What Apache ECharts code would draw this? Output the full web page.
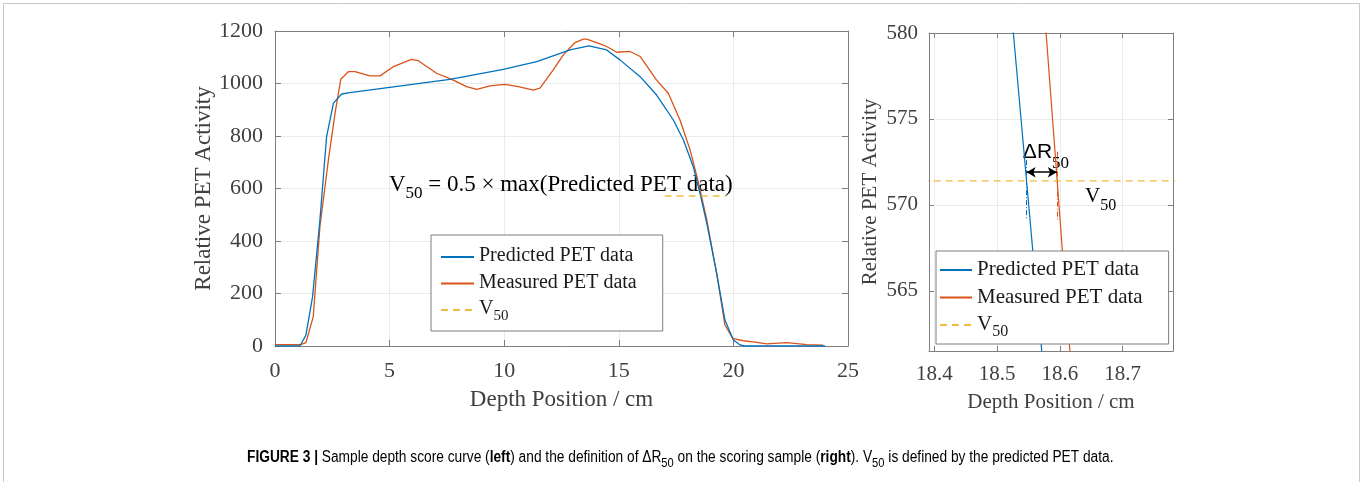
<!DOCTYPE html>
<html>
<head>
<meta charset="utf-8">
<script src="https://cdn.jsdelivr.net/npm/echarts@6/dist/echarts.min.js"></script>
<style>
html,body{margin:0;padding:0;background:#fff;}
#chart{width:1360px;height:482px;}
</style>
</head>
<body>
<div id="chart"></div>
<script>
// ---- data ----
const predX = [0, 1.09, 1.35, 1.64, 1.96, 2.25, 2.55, 2.91, 3.27, 5.0, 7.63, 9.96, 11.42, 12.87, 13.7, 14.47, 15.05, 15.93, 16.65, 17.38, 17.82, 18.25, 18.54, 18.84, 19.27, 19.63, 20.0, 20.29, 20.5, 24.0];
const predY = [0, 0, 42, 188, 480, 797, 925, 960, 965, 985, 1016, 1054, 1083, 1128, 1143, 1128, 1090, 1026, 956, 861, 785, 683, 582, 467, 277, 99, 23, 4, 0, 0];

const measX = [0, 1.12, 1.35, 1.67, 1.96, 2.33, 2.62, 2.87, 3.2, 3.49, 4.14, 4.58, 5.16, 5.96, 6.25, 7.05, 7.71, 8.36, 8.8, 9.38, 10.03, 10.62, 11.27, 11.56, 12.14, 12.58, 13.09, 13.45, 13.6, 14.18, 14.47, 14.91, 15.49, 15.93, 16.65, 17.16, 17.67, 18.11, 18.45, 18.84, 19.27, 19.63, 19.97, 20.43, 20.87, 21.45, 22.33, 23.2, 23.92];
const measY = [5, 5, 13, 112, 455, 709, 887, 1016, 1045, 1045, 1029, 1029, 1064, 1092, 1087, 1039, 1016, 988, 978, 991, 997, 988, 975, 982, 1052, 1109, 1156, 1169, 1169, 1151, 1141, 1119, 1122, 1103, 1013, 963, 861, 747, 632, 480, 277, 80, 29, 20, 16, 8, 13, 5, 3];

const v50Value = 571.4;
const v50LeftX = [17.0, 19.7];

// zoomed panel (right)
const zoomPredX = [18.521, 18.5747];
const zoomPredY = [582, 560];
const zoomMeasX = [18.5739, 18.619];
const zoomMeasY = [582, 560];
const zoomV50X = [18.38, 18.79];
const crossPredX = 18.547;
const crossMeasX = 18.595;

const leftXTicks = {min: 0, max: 25, interval: 5};
const leftYTicks = {min: 0, max: 1200, interval: 200};
const rightXRange = [18.3916, 18.78];
const rightXTicks = [18.4, 18.5, 18.6, 18.7];
const rightYRange = [561.5, 580];
const rightYTicks = [565, 570, 575, 580];

const names = ['Predicted PET data', 'Measured PET data', 'V50'];
const captionText = 'FIGURE 3 |';

// ---- build ----
const pairs = (xs, ys) => xs.map((x, i) => [x, ys[i]]);
const SERIF = "'Liberation Serif', 'Times New Roman', serif";
const SANS = "'Liberation Sans', Arial, sans-serif";
const BLUE = '#0072BD', RED = '#D95319', YEL = '#EDB120';
const AX = '#7f7f7f', GRID = '#ebebeb', TXT = '#404040';

function axisCommon(extra) {
  return Object.assign({
    type: 'value',
    axisLine: {show: true, onZero: false, lineStyle: {color: AX, width: 1}},
    axisTick: {show: true, inside: true, length: 6, lineStyle: {color: AX}},
    splitLine: {show: false},
    axisLabel: {show: false}
  }, extra);
}

const chart = echarts.init(document.getElementById('chart'), null, {renderer: 'canvas'});

function legendRich(fs) {
  return {
    n: {fontFamily: SERIF, fontSize: fs, color: '#1a1a1a', verticalAlign: 'top', lineHeight: 22},
    s: {fontFamily: SERIF, fontSize: Math.round(fs * 0.75), color: '#1a1a1a', verticalAlign: 'top', lineHeight: 16, padding: [10, 0, 0, 0]}
  };
}
const legendFormatter = name => name === 'V50' ? '{n|V}{s|50}' : '{n|' + name + '}';
const plain = v => String(v);

const option = {
  animation: false,
  backgroundColor: '#fff',
  grid: [
    {left: 275, top: 31, width: 573, height: 315},
    {left: 929, top: 33, width: 244, height: 318}
  ],
  xAxis: [
    axisCommon({gridIndex: 0, position: 'bottom', min: leftXTicks.min, max: leftXTicks.max, interval: leftXTicks.interval,
      axisLabel: {show: true, fontFamily: SERIF, fontSize: 22, color: TXT, margin: 14, formatter: plain},
      splitLine: {show: true, lineStyle: {color: GRID}},
      name: 'Depth Position / cm', nameLocation: 'middle', nameGap: 42,
      nameTextStyle: {fontFamily: SERIF, fontSize: 23, color: TXT}}),
    axisCommon({gridIndex: 0, position: 'top', min: leftXTicks.min, max: leftXTicks.max, interval: leftXTicks.interval}),
    axisCommon({gridIndex: 1, position: 'bottom', min: rightXRange[0], max: rightXRange[1],
      axisTick: {show: true, inside: true, length: 5, lineStyle: {color: AX}, customValues: rightXTicks},
      axisLabel: {show: true, fontFamily: SERIF, fontSize: 21, color: TXT, margin: 13, customValues: rightXTicks,
        formatter: v => v.toFixed(1)},
      splitLine: {show: true, lineStyle: {color: GRID}},
      name: 'Depth Position / cm', nameLocation: 'middle', nameGap: 41,
      nameTextStyle: {fontFamily: SERIF, fontSize: 21, color: TXT}}),
    axisCommon({gridIndex: 1, position: 'top', min: rightXRange[0], max: rightXRange[1],
      axisTick: {show: true, inside: true, length: 5, lineStyle: {color: AX}, customValues: rightXTicks}})
  ],
  yAxis: [
    axisCommon({gridIndex: 0, position: 'left', min: leftYTicks.min, max: leftYTicks.max, interval: leftYTicks.interval,
      axisLabel: {show: true, fontFamily: SERIF, fontSize: 22, color: TXT, margin: 12, formatter: plain},
      splitLine: {show: true, lineStyle: {color: GRID}},
      name: 'Relative PET Activity', nameLocation: 'middle', nameGap: 57,
      nameTextStyle: {fontFamily: SERIF, fontSize: 23, color: TXT}}),
    axisCommon({gridIndex: 0, position: 'right', min: leftYTicks.min, max: leftYTicks.max, interval: leftYTicks.interval}),
    axisCommon({gridIndex: 1, position: 'left', min: rightYRange[0], max: rightYRange[1],
      axisTick: {show: true, inside: true, length: 5, lineStyle: {color: AX}, customValues: rightYTicks},
      axisLabel: {show: true, fontFamily: SERIF, fontSize: 21, color: TXT, margin: 11, customValues: rightYTicks, formatter: plain},
      splitLine: {show: true, lineStyle: {color: GRID}},
      name: 'Relative PET Activity', nameLocation: 'middle', nameGap: 48,
      nameTextStyle: {fontFamily: SERIF, fontSize: 21, color: TXT}}),
    axisCommon({gridIndex: 1, position: 'right', min: rightYRange[0], max: rightYRange[1],
      axisTick: {show: true, inside: true, length: 5, lineStyle: {color: AX}, customValues: rightYTicks}})
  ],
  legend: [
    {
      data: names, orient: 'vertical', left: 431, top: 235,
      itemWidth: 33, itemHeight: 14, itemGap: 6.5,
      padding: [11, 26, 7, 9],
      backgroundColor: '#fff', borderColor: AX, borderWidth: 1, borderRadius: 0,
      itemStyle: {opacity: 0},
      textStyle: {fontFamily: SERIF, fontSize: 20, color: '#1a1a1a', rich: legendRich(20)},
      formatter: legendFormatter, selectedMode: false
    },
    {
      data: names, orient: 'vertical', left: 936, top: 251,
      itemWidth: 32, itemHeight: 14, itemGap: 6.5,
      padding: [8, 26, 4, 3],
      backgroundColor: '#fff', borderColor: AX, borderWidth: 1, borderRadius: 0,
      itemStyle: {opacity: 0},
      textStyle: {fontFamily: SERIF, fontSize: 21, color: '#1a1a1a', rich: legendRich(21)},
      formatter: legendFormatter, selectedMode: false
    }
  ],
  series: [
    {name: names[0], type: 'line', xAxisIndex: 0, yAxisIndex: 0, data: pairs(predX, predY),
      symbol: 'none', lineStyle: {color: BLUE, width: 1.3}, itemStyle: {color: BLUE}, z: 3},
    {name: names[1], type: 'line', xAxisIndex: 0, yAxisIndex: 0, data: pairs(measX, measY),
      symbol: 'none', lineStyle: {color: RED, width: 1.3}, itemStyle: {color: RED}, z: 2},
    {name: names[2], type: 'line', xAxisIndex: 0, yAxisIndex: 0,
      data: v50LeftX.map(x => [x, v50Value]),
      symbol: 'none', lineStyle: {color: YEL, width: 1.6, type: [7, 5], opacity: 0.85}, itemStyle: {color: YEL}, z: 4},

    {name: names[0], type: 'line', xAxisIndex: 2, yAxisIndex: 2, data: pairs(zoomPredX, zoomPredY),
      symbol: 'none', lineStyle: {color: BLUE, width: 1.2}, itemStyle: {color: BLUE}, z: 3,
      markLine: {silent: true, symbol: 'none', label: {show: false},
        lineStyle: {color: BLUE, width: 1, type: [5, 2, 1, 2]},
        data: [[{coord: [crossPredX, 572.6]}, {coord: [crossPredX, 569.2]}]]}},
    {name: names[1], type: 'line', xAxisIndex: 2, yAxisIndex: 2, data: pairs(zoomMeasX, zoomMeasY),
      symbol: 'none', lineStyle: {color: RED, width: 1.2}, itemStyle: {color: RED}, z: 2,
      markLine: {silent: true, symbol: 'none', label: {show: false},
        lineStyle: {color: RED, width: 1, type: [5, 2, 1, 2]},
        data: [[{coord: [crossMeasX, 573.1]}, {coord: [crossMeasX, 569.1]}]]}},
    {name: names[2], type: 'line', xAxisIndex: 2, yAxisIndex: 2,
      data: zoomV50X.map(x => [x, v50Value]),
      symbol: 'none', lineStyle: {color: YEL, width: 1.4, type: [7, 5], opacity: 0.85}, itemStyle: {color: YEL}, z: 4,
      markLine: {silent: true, symbol: ['arrow', 'arrow'], symbolSize: [8, 9], label: {show: false},
        lineStyle: {color: '#000', width: 1.5, type: 'solid', opacity: 1},
        data: [[{coord: [crossPredX, 571.9]}, {coord: [crossMeasX, 571.9]}]]}}
  ]
};
chart.setOption(option);

// ---- annotations anchored through the axes ----
const p1 = chart.convertToPixel({xAxisIndex: 0, yAxisIndex: 0}, [4.97, 659]);
const p2 = chart.convertToPixel({xAxisIndex: 2, yAxisIndex: 2}, [18.541, 573.7]);
const p3 = chart.convertToPixel({xAxisIndex: 2, yAxisIndex: 2}, [18.64, 571.1]);

const subRich = (fs, sfs, pad) => ({
  n: {fontFamily: SERIF, fontSize: fs, color: '#111', verticalAlign: 'top', lineHeight: fs + 2},
  s: {fontFamily: SERIF, fontSize: sfs, color: '#111', verticalAlign: 'top', lineHeight: sfs + 1, padding: [pad, 0, 0, 0]},
  a: {fontFamily: SANS, fontSize: fs, color: '#111', verticalAlign: 'top', lineHeight: fs + 2}
});

const CAP = "'Liberation Sans', Arial, sans-serif";
chart.setOption({
  graphic: [
    {type: 'rect', left: 1, top: 1, shape: {width: 1356, height: 500}, style: {fill: 'none', stroke: '#c8c8c8', lineWidth: 1}, silent: true},
    {type: 'text', x: p1[0], y: p1[1], silent: true,
      style: {text: '{n|V}{s|50}{n| = 0.5 × max(Predicted PET data)}', rich: subRich(23, 17, 12), verticalAlign: 'top', align: 'left'}},
    {type: 'text', x: p2[0], y: p2[1], silent: true,
      style: {text: '{a|ΔR}{s|50}', rich: subRich(21, 17, 14), verticalAlign: 'top', align: 'left'}},
    {type: 'text', x: p3[0], y: p3[1], silent: true,
      style: {text: '{n|V}{s|50}', rich: subRich(21, 16, 12), verticalAlign: 'top', align: 'left'}},
    {type: 'text', x: 247, y: 450, scaleX: 0.858, silent: true,
      style: {
        text: '{b|' + captionText + '}{t| Sample depth score curve (}{b|left}{t|) and the definition of ΔR}{u|50}{t| on the scoring sample (}{b|right}{t|). V}{u|50}{t| is defined by the predicted PET data.}',
        rich: {
          t: {fontFamily: CAP, fontSize: 16, color: '#333', verticalAlign: 'top', lineHeight: 18},
          b: {fontFamily: CAP, fontSize: 16, fontWeight: 'bold', color: '#222', verticalAlign: 'top', lineHeight: 18},
          u: {fontFamily: CAP, fontSize: 13, color: '#333', verticalAlign: 'top', lineHeight: 14, padding: [7, 0, 0, 0]}
        }
      }}
  ]
});
</script>
</body>
</html>
